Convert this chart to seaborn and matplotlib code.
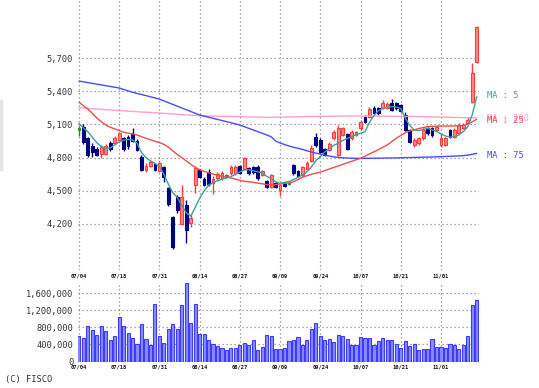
import numpy as np
import pandas as pd
import matplotlib
matplotlib.use("Agg")
import matplotlib.pyplot as plt
import matplotlib.ticker as mticker
from matplotlib.patches import Rectangle
import seaborn as sns

# ---------------- data ----------------
tick_labels = ["07/04", "07/18", "07/31", "08/14", "08/27",
               "09/09", "09/24", "10/07", "10/21", "11/01"]
tick_pos = [0, 9, 18, 27, 36, 45, 54, 63, 72, 81]

opens = [5060, 5075, 4974, 4905, 4877, 4832, 4836, 4934, 4932, 4959,
         4974, 4989, 5013, 4950, 4808, 4687, 4726, 4741, 4680, 4711,
         4521, 4258, 4445, 4197, 4370, 4206, 4551, 4687, 4605, 4672,
         4566, 4610, 4612, 4632, 4660, 4657, 4723, 4696, 4701, 4714,
         4717, 4641, 4587, 4533, 4566, 4505, 4566, 4566, 4732, 4680,
         4641, 4700, 4773, 4989, 4959, 4877, 4868, 4974, 4823, 5005,
         5013, 4974, 5005, 5065, 5170, 5170, 5249, 5249, 5249, 5249,
         5294, 5294, 5276, 5186, 5049, 4913, 4929, 4974, 5065, 5065,
         5049, 4913, 4913, 5049, 4989, 5020, 5065, 5113, 5306, 5669]
closes = [5060, 4944, 4823, 4853, 4823, 4896, 4905, 4875, 4981, 5020,
          4877, 4905, 4950, 4868, 4687, 4723, 4762, 4687, 4748, 4626,
          4378, 3991, 4324, 4445, 4143, 4252, 4708, 4626, 4551, 4560,
          4605, 4655, 4657, 4632, 4714, 4717, 4664, 4796, 4657, 4668,
          4614, 4678, 4535, 4642, 4533, 4551, 4544, 4566, 4657, 4630,
          4710, 4750, 4884, 4913, 4850, 4823, 4927, 5034, 5065, 5068,
          4877, 5034, 5034, 5125, 5125, 5240, 5204, 5204, 5294, 5285,
          5231, 5249, 5225, 5049, 4943, 4959, 4974, 5049, 5020, 5005,
          5080, 4974, 4974, 4989, 5049, 5095, 5095, 5140, 5564, 5987]
highs = [5090, 5100, 4990, 4930, 4895, 4915, 4925, 4950, 4995, 5035,
         4990, 5005, 5065, 4965, 4820, 4750, 4775, 4755, 4760, 4725,
         4535, 4270, 4460, 4550, 4415, 4290, 4725, 4700, 4620, 4700,
         4630, 4670, 4675, 4650, 4730, 4730, 4735, 4808, 4715, 4725,
         4730, 4690, 4600, 4655, 4580, 4560, 4575, 4580, 4745, 4690,
         4720, 4765, 4913, 5020, 4975, 4890, 4940, 5050, 5095, 5080,
         5025, 5050, 5045, 5140, 5185, 5255, 5265, 5260, 5322, 5300,
         5330, 5305, 5290, 5213, 5060, 4975, 4990, 5065, 5080, 5080,
         5095, 5020, 4990, 5060, 5065, 5110, 5110, 5170, 5655, 5995]
lows = [4995, 4925, 4805, 4805, 4810, 4795, 4820, 4860, 4920, 4950,
        4860, 4880, 4940, 4855, 4680, 4665, 4715, 4675, 4670, 4580,
        4365, 3975, 4297, 4190, 4022, 4170, 4478, 4610, 4540, 4545,
        4470, 4595, 4600, 4615, 4645, 4640, 4650, 4685, 4645, 4650,
        4600, 4630, 4520, 4520, 4520, 4454, 4530, 4550, 4645, 4620,
        4630, 4690, 4760, 4900, 4840, 4815, 4855, 4960, 4810, 4995,
        4865, 4960, 4995, 5050, 5115, 5160, 5195, 5190, 5240, 5240,
        5220, 5235, 5210, 5040, 4930, 4900, 4915, 4960, 5005, 4990,
        5040, 4900, 4905, 4975, 4975, 5010, 5055, 5100, 5295, 5660]

volume = [590e3, 551e3, 823e3, 730e3, 614e3, 839e3, 715e3, 497e3, 590e3, 1040e3,
          823e3, 676e3, 559e3, 419e3, 870e3, 536e3, 396e3, 1350e3, 590e3, 443e3,
          753e3, 885e3, 769e3, 1330e3, 1830e3, 909e3, 1350e3, 637e3, 652e3, 497e3,
          412e3, 357e3, 318e3, 280e3, 318e3, 318e3, 381e3, 443e3, 388e3, 513e3,
          264e3, 342e3, 614e3, 590e3, 303e3, 287e3, 326e3, 482e3, 505e3, 575e3,
          396e3, 497e3, 753e3, 909e3, 590e3, 497e3, 536e3, 458e3, 629e3, 606e3,
          536e3, 396e3, 396e3, 575e3, 551e3, 551e3, 396e3, 482e3, 551e3, 497e3,
          497e3, 412e3, 310e3, 482e3, 357e3, 419e3, 264e3, 287e3, 287e3, 536e3,
          342e3, 342e3, 318e3, 419e3, 381e3, 303e3, 381e3, 590e3, 1330e3, 1430e3]

ma5 = [5110, 5070, 5034, 4985, 4935, 4900, 4885, 4886, 4915, 4940,
       4958, 4965, 4960, 4930, 4845, 4800, 4770, 4748, 4717, 4650,
       4560, 4480, 4440, 4365, 4300, 4268, 4345, 4430, 4495, 4550,
       4570, 4590, 4605, 4615, 4625, 4650, 4670, 4688, 4690, 4680,
       4672, 4660, 4630, 4610, 4580, 4566, 4575, 4582, 4600, 4620,
       4642, 4670, 4715, 4770, 4810, 4850, 4880, 4910, 4930, 4955,
       4972, 4990, 5005, 5020, 5034, 5120, 5180, 5225, 5245, 5255,
       5262, 5258, 5245, 5160, 5090, 5050, 5045, 5055, 5065, 5052,
       5036, 5015, 4995, 4985, 4990, 5004, 5035, 5080, 5190, 5352]
ma25 = [5303, 5270, 5240, 5200, 5160, 5125, 5095, 5075, 5060, 5045,
        5030, 5022, 5015, 5005, 4990, 4975, 4962, 4948, 4935, 4920,
        4895, 4860, 4828, 4800, 4770, 4740, 4712, 4690, 4675, 4662,
        4650, 4640, 4630, 4623, 4615, 4605, 4593, 4585, 4580, 4575,
        4568, 4562, 4555, 4552, 4555, 4560, 4565, 4572, 4580, 4600,
        4622, 4635, 4648, 4658, 4668, 4682, 4696, 4710, 4724, 4738,
        4752, 4766, 4780, 4793, 4812, 4832, 4852, 4872, 4893, 4914,
        4945, 4975, 5000, 5025, 5040, 5052, 5063, 5072, 5080, 5083,
        5085, 5086, 5086, 5086, 5086, 5086, 5090, 5105, 5125, 5147]
ma75 = [5494, 5487, 5480, 5473, 5466, 5459, 5452, 5445, 5438, 5431,
        5418, 5405, 5392, 5382, 5372, 5362, 5351, 5341, 5330,
        5314, 5298, 5282, 5266, 5250, 5234, 5218, 5202, 5186,
        5176, 5166, 5156, 5146, 5136, 5126, 5116, 5105, 5095,
        5080, 5065, 5050, 5035, 5020, 5005, 4989,
        4950, 4932, 4918, 4905, 4893, 4884, 4874, 4862, 4850, 4840,
        4832, 4822, 4814, 4806, 4801, 4798, 4796, 4794, 4793, 4793,
        4793, 4793, 4794, 4794, 4795, 4796, 4796, 4797, 4798,
        4799, 4800, 4801, 4802, 4803, 4804, 4805, 4807,
        4808, 4810, 4811, 4813, 4815, 4817, 4822, 4830, 4838]
ma200 = [5252, 5249, 5246, 5243, 5240, 5237, 5234, 5232, 5229, 5226,
         5224, 5221, 5218, 5216, 5213, 5211, 5209, 5206, 5204,
         5201, 5198, 5195, 5192, 5189, 5187, 5184, 5182, 5179,
         5178, 5177, 5176, 5175, 5174, 5173, 5172, 5171, 5170, 5169,
         5168, 5167, 5167, 5166, 5165, 5165,
         5166, 5167, 5167, 5168, 5169, 5170, 5170, 5171, 5172, 5172,
         5173, 5174, 5174, 5175, 5176, 5176, 5177, 5177,
         5177, 5177, 5176, 5176, 5176, 5175, 5175, 5175, 5174, 5174,
         5174, 5173, 5173, 5173, 5172,
         5171, 5170, 5169, 5168, 5167, 5166, 5165, 5164, 5163, 5162,
         5162, 5161, 5160]

price_ticks = [4200, 4500, 4800, 5100, 5400, 5700]
vol_ticks = [0, 400000, 800000, 1200000, 1600000]

# ---------------- style ----------------
sns.set_style("white")
plt.rcParams["font.family"] = ["DejaVu Sans Mono", "DejaVu Sans"]

W, H = 539, 388
fig = plt.figure(figsize=(W / 100, H / 100), dpi=100)
fig.patch.set_facecolor("white")

def fx(px):
    return px / W

def fy(py):
    return 1 - py / H

axp = fig.add_axes([fx(78), fy(270), fx(479) - fx(78), fy(0) - fy(270)])
axv = fig.add_axes([fx(78), fy(361.5), fx(479) - fx(78), fy(282) - fy(361.5)])

n = len(closes)
idx = np.arange(n)
df = pd.DataFrame({"i": idx, "open": opens, "close": closes, "high": highs,
                   "low": lows, "vol": volume, "ma5": ma5, "ma25": ma25,
                   "ma75": ma75, "ma200": ma200})

UP, DOWN, FLAT = "#ff3b3b", "#000080", "#2e8b2e"
UPFILL = "#ff8a8a"
grid_kw = dict(color="#8a8a8a", linestyle=(0, (1, 2.2)), linewidth=0.9)

for ax in (axp, axv):
    for s in ax.spines.values():
        s.set_visible(False)
    ax.set_xlim(-0.2, 89.5)
    ax.set_xticks(tick_pos)
    ax.tick_params(length=0)
    ax.set_axisbelow(True)

# ---- price panel ----
axp.set_ylim(3780, 6229)
axp.set_yticks(price_ticks)
axp.yaxis.set_major_formatter(mticker.FuncFormatter(lambda v, p: f"{int(v):,}"))
axp.tick_params(axis="y", labelsize=6.3, labelcolor="#333333", pad=3.5)
axp.set_xticklabels([])
axp.grid(True, axis="both", **grid_kw)

# candles
for r in df.itertuples():
    if r.close > r.open:
        ec, fc = UP, UPFILL
    elif r.close < r.open:
        ec, fc = DOWN, DOWN
    else:
        ec, fc = FLAT, FLAT
    axp.vlines(r.i, r.low, r.high, color=ec, linewidth=1.0, zorder=3)
    lo = min(r.open, r.close)
    h = max(abs(r.close - r.open), 12)
    axp.bar(r.i, h, bottom=lo - (6 if r.close == r.open else 0), width=0.62,
            color=fc, edgecolor=ec, linewidth=0.8, zorder=4)

ma_colors = {"ma200": "#ff9fd0", "ma75": "#4a4aff", "ma25": "#f24c4c", "ma5": "#3f9f9f"}
for key in ["ma200", "ma75", "ma25", "ma5"]:
    sns.lineplot(data=df, x="i", y=key, ax=axp, color=ma_colors[key],
                 linewidth=1.0, zorder=5, legend=False)
axp.set_xlabel("")
axp.set_ylabel("")

label_x = (487 - 78) / 401
trans = matplotlib.transforms.blended_transform_factory(axp.transAxes, axp.transData)
ma_labels = [("MA : 5", ma5[-1] + 15, ma_colors["ma5"]),
             ("MA : 75", ma75[-1] - 15, ma_colors["ma75"]),
             ("MA : 200", ma25[-1] + 6, ma_colors["ma200"]),
             ("MA : 25", ma25[-1] - 8, ma_colors["ma25"])]
for txt, yv, c in ma_labels:
    axp.text(label_x, yv, txt, transform=trans, color=c, fontsize=6.2,
             va="center", ha="left", clip_on=False)

# ---- volume panel ----
sns.barplot(data=df, x="i", y="vol", ax=axv, native_scale=True, width=0.7,
            color="#8c8cff", edgecolor="#3c3cff", linewidth=0.8, saturation=1,
            zorder=3)
axv.set_xlim(-0.2, 89.5)
axv.set_ylim(0, 1.86e6)
axv.set_yticks(vol_ticks)
axv.yaxis.set_major_formatter(mticker.FuncFormatter(lambda v, p: f"{int(v):,}"))
axv.set_xticks(tick_pos)
axv.set_xticklabels(tick_labels)
axv.tick_params(axis="y", labelsize=6.3, labelcolor="#333333", pad=3.5)
axv.tick_params(axis="x", labelsize=3.9, labelcolor="#111111", pad=2.5,
                labeltop=True, labelbottom=True)
for lab in axv.get_xticklabels():
    lab.set_fontweight("bold")
axv.grid(True, axis="both", **grid_kw)
axv.set_xlabel("")
axv.set_ylabel("")

fig.text(fx(5), fy(379.5), "(C) FISCO", fontsize=6.3, color="#333333",
         va="center", ha="left")
fig.patches.append(Rectangle((0, fy(170)), fx(2), fy(100) - fy(170),
                             transform=fig.transFigure, color="#e4e4e4",
                             zorder=0))

fig.savefig("out.png", dpi=100, facecolor="white")
